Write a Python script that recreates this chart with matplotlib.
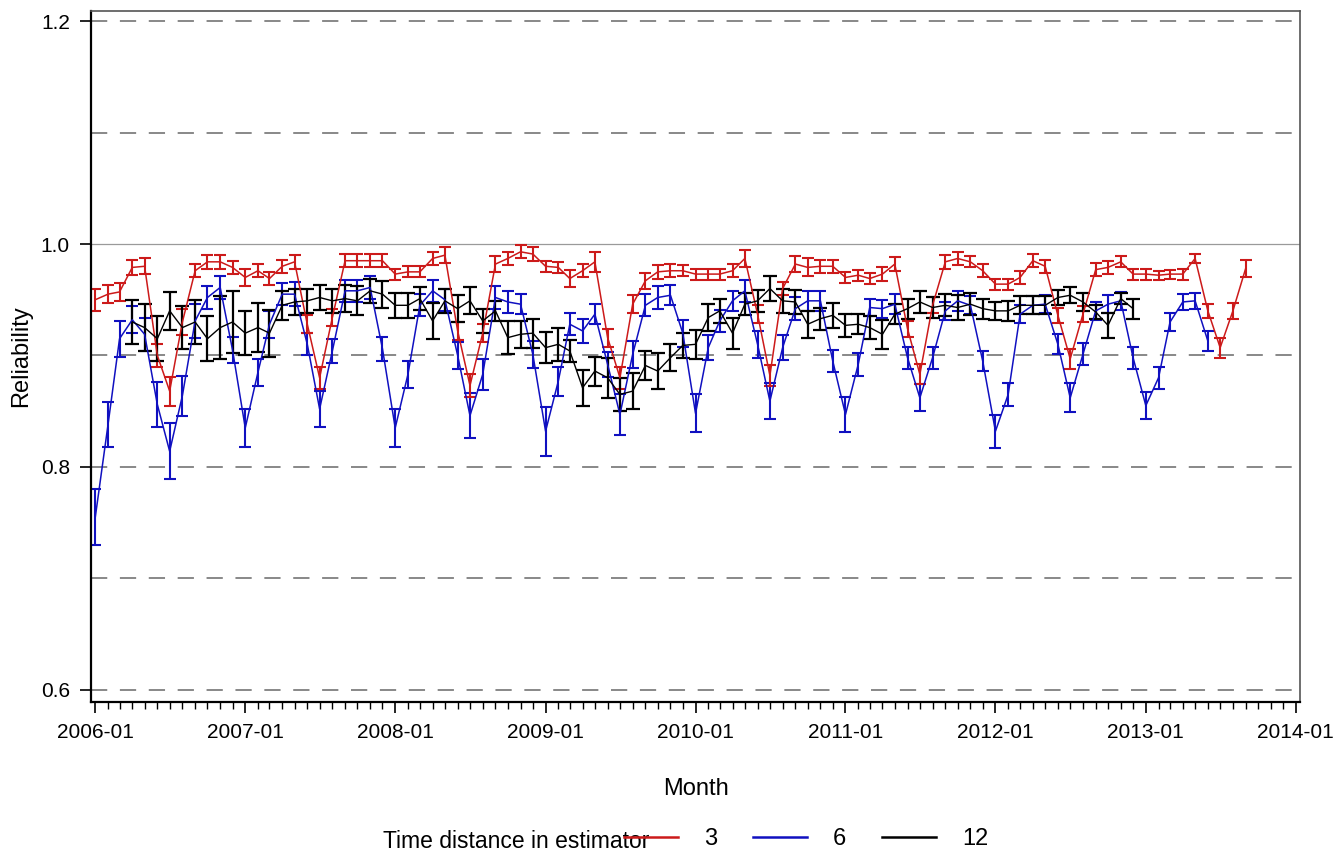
import pandas as pd
import matplotlib
matplotlib.use("Agg")
from matplotlib import pyplot as plt
import matplotlib.dates as mdates

plt.rcParams["font.family"] = ["Liberation Sans", "DejaVu Sans"]

# reliability by month, time distance 3
rel_3 = [0.950, 0.955, 0.957, 0.979, 0.980, 0.900, 0.868, 0.930, 0.976, 0.984,
         0.984, 0.979, 0.970, 0.976, 0.969, 0.980, 0.984, 0.928, 0.880, 0.934,
         0.985, 0.985, 0.985, 0.985, 0.973, 0.975, 0.975, 0.987, 0.990, 0.922,
         0.873, 0.920, 0.982, 0.987, 0.993, 0.991, 0.980, 0.979, 0.969, 0.976,
         0.984, 0.916, 0.880, 0.946, 0.967, 0.975, 0.976, 0.976, 0.973, 0.973,
         0.973, 0.976, 0.987, 0.937, 0.882, 0.960, 0.982, 0.979, 0.980, 0.980,
         0.970, 0.972, 0.969, 0.973, 0.982, 0.924, 0.883, 0.945, 0.984, 0.987,
         0.984, 0.976, 0.964, 0.964, 0.970, 0.985, 0.980, 0.936, 0.897, 0.937,
         0.977, 0.979, 0.984, 0.973, 0.973, 0.972, 0.973, 0.973, 0.987, 0.940,
         0.907, 0.940, 0.978]
err_3 = [0.010, 0.008, 0.008, 0.007, 0.007, 0.010, 0.013, 0.012, 0.006, 0.006,
         0.006, 0.006, 0.008, 0.006, 0.006, 0.006, 0.006, 0.008, 0.010, 0.008,
         0.006, 0.006, 0.006, 0.006, 0.005, 0.005, 0.005, 0.006, 0.007, 0.008,
         0.010, 0.008, 0.007, 0.006, 0.006, 0.006, 0.005, 0.005, 0.008, 0.006,
         0.009, 0.008, 0.010, 0.008, 0.007, 0.006, 0.006, 0.005, 0.005, 0.005,
         0.005, 0.006, 0.008, 0.008, 0.009, 0.006, 0.007, 0.008, 0.006, 0.006,
         0.005, 0.005, 0.005, 0.006, 0.006, 0.007, 0.009, 0.007, 0.006, 0.006,
         0.005, 0.006, 0.005, 0.005, 0.006, 0.006, 0.006, 0.007, 0.009, 0.007,
         0.006, 0.006, 0.005, 0.005, 0.005, 0.004, 0.004, 0.005, 0.004, 0.006,
         0.009, 0.007, 0.008]

# time distance 6
rel_6 = [0.755, 0.838, 0.915, 0.932, 0.919, 0.856, 0.814, 0.864, 0.931, 0.952,
         0.961, 0.905, 0.835, 0.885, 0.928, 0.955, 0.955, 0.910, 0.852, 0.904,
         0.958, 0.958, 0.961, 0.906, 0.835, 0.883, 0.945, 0.958, 0.950, 0.900,
         0.846, 0.883, 0.952, 0.948, 0.946, 0.901, 0.832, 0.877, 0.928, 0.922,
         0.937, 0.892, 0.847, 0.901, 0.945, 0.952, 0.954, 0.920, 0.848, 0.907,
         0.931, 0.949, 0.958, 0.910, 0.859, 0.907, 0.942, 0.949, 0.949, 0.895,
         0.847, 0.892, 0.943, 0.942, 0.946, 0.898, 0.862, 0.898, 0.940, 0.949,
         0.945, 0.895, 0.832, 0.865, 0.937, 0.945, 0.946, 0.910, 0.862, 0.901,
         0.940, 0.946, 0.949, 0.898, 0.855, 0.880, 0.930, 0.948, 0.949, 0.913]
err_6 = [0.025, 0.020, 0.016, 0.012, 0.015, 0.020, 0.025, 0.018, 0.015, 0.010,
         0.010, 0.012, 0.017, 0.012, 0.012, 0.010, 0.011, 0.010, 0.016, 0.011,
         0.010, 0.010, 0.010, 0.011, 0.017, 0.012, 0.010, 0.010, 0.010, 0.012,
         0.020, 0.014, 0.010, 0.010, 0.009, 0.012, 0.022, 0.013, 0.010, 0.011,
         0.009, 0.011, 0.018, 0.012, 0.010, 0.010, 0.009, 0.012, 0.017, 0.011,
         0.010, 0.009, 0.010, 0.012, 0.016, 0.011, 0.010, 0.009, 0.009, 0.010,
         0.016, 0.010, 0.008, 0.008, 0.009, 0.010, 0.012, 0.010, 0.008, 0.009,
         0.008, 0.009, 0.015, 0.010, 0.008, 0.008, 0.008, 0.009, 0.013, 0.010,
         0.008, 0.008, 0.008, 0.010, 0.012, 0.010, 0.008, 0.007, 0.007, 0.009]

# time distance 12 (starts 2006-04)
rel_12 = [0.930, 0.925, 0.915, 0.940, 0.925, 0.930, 0.915, 0.925, 0.930, 0.920,
          0.925, 0.920, 0.945, 0.948, 0.949, 0.952, 0.949, 0.951, 0.949, 0.958,
          0.955, 0.945, 0.945, 0.951, 0.931, 0.949, 0.942, 0.949, 0.931, 0.940,
          0.916, 0.919, 0.920, 0.907, 0.910, 0.904, 0.871, 0.886, 0.880, 0.865,
          0.868, 0.891, 0.886, 0.898, 0.909, 0.910, 0.934, 0.940, 0.920, 0.946,
          0.949, 0.960, 0.949, 0.948, 0.928, 0.933, 0.936, 0.927, 0.928, 0.925,
          0.919, 0.937, 0.942, 0.948, 0.943, 0.945, 0.943, 0.946, 0.942, 0.940,
          0.940, 0.945, 0.945, 0.945, 0.952, 0.954, 0.948, 0.939, 0.927, 0.951,
          0.942]
err_12 = [0.020, 0.021, 0.020, 0.017, 0.019, 0.020, 0.020, 0.028, 0.028, 0.020,
          0.022, 0.021, 0.013, 0.012, 0.011, 0.011, 0.011, 0.012, 0.013, 0.011,
          0.012, 0.011, 0.011, 0.010, 0.016, 0.011, 0.012, 0.012, 0.011, 0.009,
          0.015, 0.012, 0.013, 0.014, 0.015, 0.010, 0.016, 0.013, 0.018, 0.015,
          0.016, 0.013, 0.016, 0.012, 0.011, 0.013, 0.012, 0.011, 0.014, 0.010,
          0.010, 0.011, 0.011, 0.011, 0.012, 0.010, 0.011, 0.010, 0.009, 0.010,
          0.013, 0.009, 0.009, 0.010, 0.009, 0.010, 0.011, 0.010, 0.009, 0.008,
          0.009, 0.008, 0.008, 0.008, 0.007, 0.007, 0.008, 0.006, 0.011, 0.005,
          0.009]

months_3 = pd.date_range("2006-01-01", periods=len(rel_3), freq="MS")
months_6 = pd.date_range("2006-01-01", periods=len(rel_6), freq="MS")
months_12 = pd.date_range("2006-04-01", periods=len(rel_12), freq="MS")

fig = plt.figure(figsize=(13.35, 8.52), dpi=100)
ax = fig.add_axes([0.068, 0.176, 0.906, 0.811])

# reference lines
for y in [0.6, 0.7, 0.8, 0.9, 1.1, 1.2]:
    ax.axhline(y, color="#7f7f7f", lw=1.3, dashes=(9, 7), zorder=0)
ax.axhline(1.0, color="#9a9a9a", lw=0.9, zorder=0)

ax.errorbar(months_6, rel_6, yerr=err_6, color="#1010c0", lw=1.1,
            elinewidth=1.5, capsize=4.5, capthick=1.5, label="6")
ax.errorbar(months_3, rel_3, yerr=err_3, color="#cc1a1a", lw=1.1,
            elinewidth=1.5, capsize=4.5, capthick=1.5, label="3")
ax.errorbar(months_12, rel_12, yerr=err_12, color="black", lw=1.0,
            elinewidth=1.6, capsize=5, capthick=1.6, label="12")

ax.set_ylim(0.589, 1.209)
ax.set_xlim(pd.Timestamp("2005-12-21"), pd.Timestamp("2014-01-12"))
ax.set_yticks([0.6, 0.8, 1.0, 1.2])
ax.set_yticklabels(["0.6", "0.8", "1.0", "1.2"])

ax.xaxis.set_major_locator(mdates.YearLocator())
ax.xaxis.set_major_formatter(mdates.DateFormatter("%Y-%m"))
ax.xaxis.set_minor_locator(mdates.MonthLocator())
ax.tick_params(axis="both", which="major", direction="out", length=8,
               width=1.2, labelsize=15, pad=7)
ax.tick_params(axis="x", which="minor", direction="out", length=5, width=1.0)

for side in ["left", "bottom"]:
    ax.spines[side].set_linewidth(1.6)
for side in ["top", "right"]:
    ax.spines[side].set_linewidth(1.2)
    ax.spines[side].set_color("#555555")

ax.set_xlabel("Month", fontsize=17, labelpad=26)
ax.set_ylabel("Reliability", fontsize=17, labelpad=6)

# legend along the bottom
fig.text(383 / 1335, 1 - 841 / 852, "Time distance in estimator",
         fontsize=16.5, va="center", ha="left")
handles, labels = ax.get_legend_handles_labels()
order = [labels.index(k) for k in ["3", "6", "12"]]
leg = fig.legend([handles[i][0] for i in order], [labels[i] for i in order],
                 loc="center left", bbox_to_anchor=(624 / 1335, 1 - 839 / 852),
                 ncol=3, frameon=False, fontsize=17, handlelength=2.3,
                 handletextpad=1.1, columnspacing=1.5, borderpad=0,
                 borderaxespad=0)
for line in leg.get_lines():
    line.set_linewidth(1.8)

plt.savefig("out.png", dpi=100)
